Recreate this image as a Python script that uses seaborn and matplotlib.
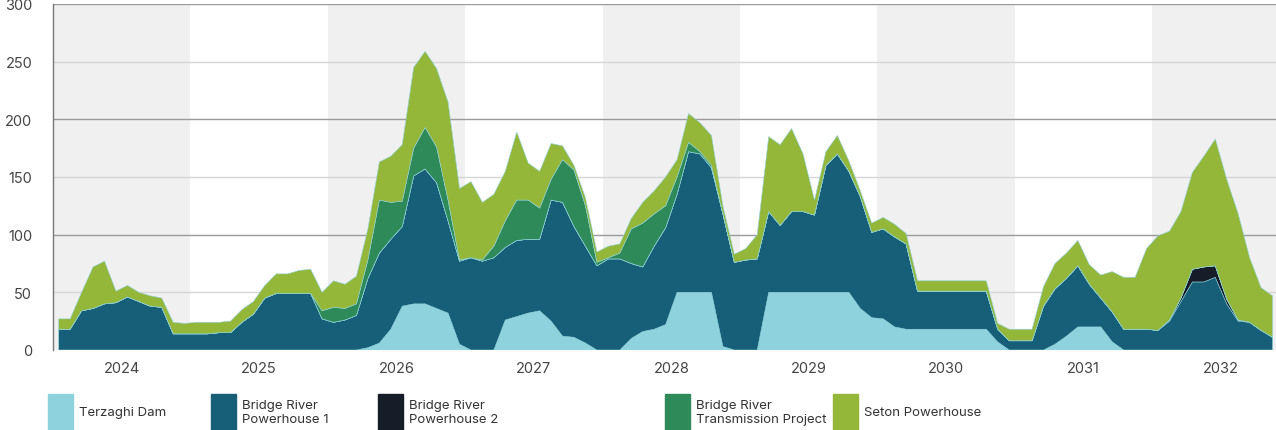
import matplotlib
matplotlib.use("Agg")
import matplotlib.pyplot as plt
from matplotlib.patches import Rectangle
import seaborn as sns
import numpy as np

# monthly values, Jan 2024 .. Nov 2032 (107 months)
years = list(range(2024, 2033))

terzaghi = [0] * 12 + [0] * 12 + \
    [0, 0, 0, 2, 6, 18, 38, 40, 40, 36, 32, 5] + \
    [0, 0, 0, 26, 29, 32, 34, 25, 12, 11, 6, 0] + \
    [0, 0, 10, 16, 18, 22, 50, 50, 50, 50, 3, 0] + \
    [0, 0, 50, 50, 50, 50, 50, 50, 50, 50, 36, 28] + \
    [27, 20, 18, 18, 18, 18, 18, 18, 18, 18, 7, 0] + \
    [0, 0, 0, 5, 12, 20, 20, 20, 7, 0, 0, 0] + \
    [0] * 11

powerhouse1 = [18, 18, 34, 36, 40, 41, 46, 42, 38, 37, 14, 14] + \
    [14, 14, 15, 15, 24, 31, 45, 49, 49, 49, 49, 27] + \
    [24, 26, 30, 60, 78, 78, 69, 111, 117, 109, 80, 72] + \
    [80, 77, 80, 63, 66, 64, 62, 105, 116, 96, 84, 73] + \
    [79, 79, 65, 56, 72, 84, 85, 122, 120, 108, 115, 76] + \
    [78, 79, 70, 58, 70, 70, 67, 110, 120, 105, 97, 74] + \
    [78, 78, 74, 33, 33, 33, 33, 33, 33, 33, 11, 8] + \
    [8, 8, 38, 48, 50, 53, 37, 25, 26, 18, 18, 18] + \
    [17, 25, 42, 59, 59, 63, 40, 25, 24, 17, 11]

powerhouse2 = [0] * 96 + [0, 1, 3, 11, 13, 10, 4, 1, 0, 0, 0]

transmission = [0] * 12 + \
    [0] * 11 + [7] + \
    [13, 10, 10, 16, 46, 32, 22, 24, 36, 31, 18, 1] + \
    [0, 1, 10, 23, 35, 34, 27, 18, 37, 49, 35, 3] + \
    [1, 5, 30, 38, 28, 19, 15, 8, 2, 2, 0, 0] + \
    [0] * 47

seton = [9, 9, 16, 36, 37, 10, 10, 8, 9, 8, 10, 9] + \
    [10, 10, 9, 10, 11, 11, 11, 17, 17, 20, 21, 16] + \
    [23, 21, 24, 27, 33, 40, 49, 70, 66, 68, 85, 62] + \
    [66, 50, 45, 43, 59, 32, 32, 31, 12, 4, 7, 9] + \
    [10, 8, 9, 18, 20, 25, 15, 25, 25, 26, 7, 7] + \
    [10, 21, 65, 70, 72, 50, 13, 12, 16, 9, 5, 8] + \
    [10, 11, 9, 9, 9, 9, 9, 9, 9, 9, 5, 10] + \
    [10, 10, 17, 22, 22, 22, 17, 20, 35, 45, 45, 70] + \
    [82, 77, 75, 84, 96, 110, 104, 92, 56, 37, 36]

labels = ["Terzaghi Dam", "Bridge River\nPowerhouse 1", "Bridge River\nPowerhouse 2",
          "Bridge River\nTransmission Project", "Seton Powerhouse"]
colors = ["#8dd2dc", "#175f78", "#171c29", "#2f8a5a", "#94b73a"]

sns.set_theme(style="white")
plt.rcParams["font.family"] = ["Inter", "DejaVu Sans"]

fig = plt.figure(figsize=(12.76, 4.31), dpi=100)
ax = fig.add_axes([53 / 1276, 1 - 351 / 431, 1 - 53 / 1276, 346 / 431])

x = 2024 + (np.arange(len(powerhouse1)) + 0.5) / 12

# alternating year bands
for i, yr in enumerate(years):
    if i % 2 == 0:
        ax.axvspan(yr, yr + 1, color="#f0f0f0", lw=0, zorder=0)

ax.stackplot(x, terzaghi, powerhouse1, powerhouse2, transmission, seton,
             colors=colors, linewidth=0.4, edgecolors=colors, zorder=2)

ax.set_ylim(0, 300)
ax.set_xlim(2024.0, 2032.9)
ax.set_yticks(range(0, 301, 50))
for v in range(50, 301, 50):
    ax.axhline(v, color="#9a9a9a" if v % 100 == 0 else "#d6d6d6", lw=1, zorder=1)

ax.set_xticks([yr + 0.5 for yr in years])
ax.set_xticklabels([str(yr) for yr in years])
ax.tick_params(axis="x", length=0, pad=8, labelsize=10.5, labelcolor="#444444")
ax.tick_params(axis="y", length=0, pad=15, labelsize=10.5, labelcolor="#444444")

for side in ["top", "right", "bottom"]:
    ax.spines[side].set_visible(False)
ax.spines["left"].set_color("#777777")
ax.spines["left"].set_linewidth(1)

# legend row
leg_x = [48, 211, 378, 665, 833]
for lx, lab, col in zip(leg_x, labels, colors):
    fig.patches.append(Rectangle((lx / 1276, 0), 25 / 1276, 36 / 431,
                                 transform=fig.transFigure, color=col, zorder=3))
    fig.text((lx + 31) / 1276, 1 - 413 / 431, lab, fontsize=9.5, color="#333333",
             va="center", ha="left", linespacing=1.15)

fig.savefig("out.png", dpi=100)
